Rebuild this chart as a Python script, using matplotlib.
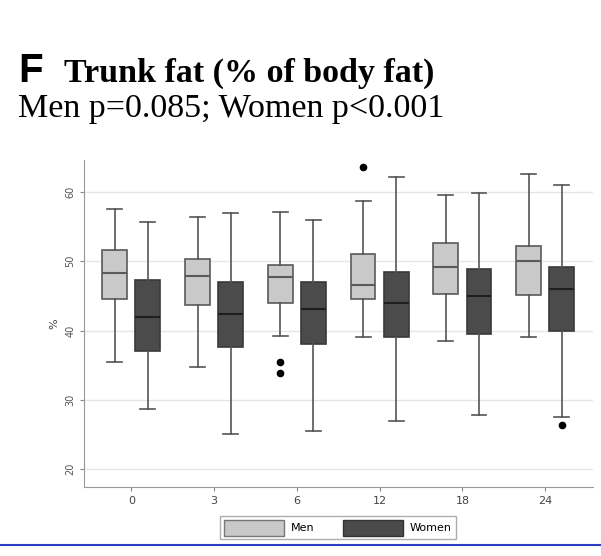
import numpy as np
import matplotlib
matplotlib.use("Agg")
import matplotlib.pyplot as plt
from matplotlib.patches import Patch
from matplotlib.lines import Line2D

# months of follow-up
months = ["0", "3", "6", "12", "18", "24"]

# Men: whisker low, q1, median, q3, whisker high
men_wlo = [35.4, 34.7, 39.2, 39.0, 38.5, 39.0]
men_q1 = [44.6, 43.7, 44.0, 44.6, 45.3, 45.1]
men_med = [48.3, 47.8, 47.7, 46.5, 49.1, 50.0]
men_q3 = [51.6, 50.3, 49.5, 51.1, 52.7, 52.2]
men_whi = [57.6, 56.4, 57.1, 58.7, 59.5, 62.6]
men_out = [[], [], [35.5, 33.8], [63.6], [], []]

# Women
wom_wlo = [28.6, 25.1, 25.5, 27.0, 27.8, 27.5]
wom_q1 = [37.0, 37.6, 38.0, 39.1, 39.5, 40.0]
wom_med = [42.0, 42.4, 43.1, 44.0, 45.0, 46.0]
wom_q3 = [47.3, 47.0, 47.0, 48.5, 48.9, 49.2]
wom_whi = [55.6, 56.9, 56.0, 62.2, 59.8, 61.0]
wom_out = [[], [], [], [], [], [26.3]]

MEN_C = "#c9c9c9"
WOM_C = "#4b4b4b"


def make_stats(wlo, q1, med, q3, whi, out):
    return [dict(whislo=a, q1=b, med=c, q3=d, whishi=e, fliers=f)
            for a, b, c, d, e, f in zip(wlo, q1, med, q3, whi, out)]


fig = plt.figure(figsize=(6.01, 5.56), dpi=100)
ax = fig.add_axes([0.140, 0.124, 0.847, 0.588])

x = np.arange(len(months))
off = 0.2
w = 0.3

common = dict(widths=w, patch_artist=True, capwidths=0.18,
              whiskerprops=dict(color="#555555", lw=1.2),
              capprops=dict(color="#555555", lw=1.2),
              flierprops=dict(marker="o", markerfacecolor="black",
                              markeredgecolor="black", markersize=4.5))

ax.bxp(make_stats(men_wlo, men_q1, men_med, men_q3, men_whi, men_out),
       positions=x - off,
       boxprops=dict(facecolor=MEN_C, edgecolor="#5a5a5a", lw=1.2),
       medianprops=dict(color="#5a5a5a", lw=1.5), **common)
ax.bxp(make_stats(wom_wlo, wom_q1, wom_med, wom_q3, wom_whi, wom_out),
       positions=x + off,
       boxprops=dict(facecolor=WOM_C, edgecolor="#3a3a3a", lw=1.2),
       medianprops=dict(color="#1e1e1e", lw=1.5), **common)

ax.set_xlim(-0.57, 5.58)
ax.set_ylim(17.4, 64.6)
ax.set_xticks(x)
ax.set_xticklabels(months, fontsize=8, color="#444444")
ax.set_yticks([20, 30, 40, 50, 60])
ax.set_yticklabels(["20", "30", "40", "50", "60"], rotation=90,
                   va="center", fontsize=7, color="#555555")
ax.tick_params(axis="both", length=3, color="#888888")
ax.set_ylabel("%", fontsize=8, color="#444444", labelpad=4)
ax.grid(axis="y", color="#e6e6e6", lw=1.0)
ax.set_axisbelow(True)
for s in ["top", "right"]:
    ax.spines[s].set_visible(False)
for s in ["left", "bottom"]:
    ax.spines[s].set_color("#999999")

handles = [Patch(facecolor=MEN_C, edgecolor="#777777", label="Men"),
           Patch(facecolor=WOM_C, edgecolor="#333333", label="Women")]
fig.legend(handles=handles, loc="center", bbox_to_anchor=(0.562, 0.051),
           ncol=2, fontsize=8, frameon=True, fancybox=False,
           edgecolor="#999999", handlelength=5.4, handleheight=1.8,
           columnspacing=2.6, borderpad=0.35, handletextpad=0.6)

fig.text(0.03, 0.8525, "F", fontsize=29, fontweight="bold",
         family="Liberation Sans", va="baseline")
fig.text(0.106, 0.8525, "Trunk fat (% of body fat)", fontsize=24.5,
         fontweight="bold", family="Liberation Serif", va="baseline")
fig.text(0.03, 0.789, "Men p=0.085; Women p<0.001", fontsize=24.5,
         family="Liberation Serif", va="baseline")

fig.add_artist(Line2D([0, 1], [0.0198, 0.0198], color="#2a3fbf", lw=1.5,
                      transform=fig.transFigure))

fig.savefig("out.png", dpi=100)
